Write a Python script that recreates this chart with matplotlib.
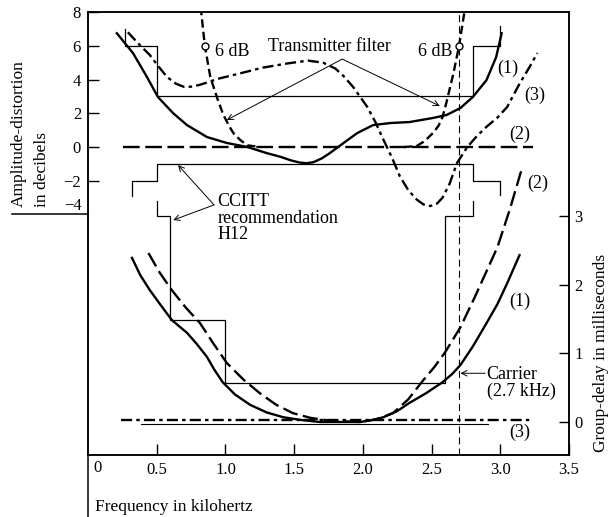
import matplotlib
matplotlib.use('Agg')
import matplotlib.pyplot as plt
from matplotlib.lines import Line2D

plt.rcParams['font.family'] = ['Liberation Serif', 'DejaVu Serif']
plt.rcParams['lines.scale_dashes'] = False

# AMPLITUDE DISTORTION (dB) -- upper part
f_amp1 = [0.21, 0.327, 0.429, 0.509, 0.619, 0.72, 0.866, 1.01, 1.16, 1.30, 1.40, 1.48, 1.54, 1.59, 1.64, 1.70,
          1.76, 1.86, 1.96, 2.075, 2.20, 2.34, 2.51, 2.61, 2.71, 2.80, 2.90, 2.97, 3.01]
db_amp1 = [6.74, 5.57, 4.15, 2.96, 2.01, 1.30, 0.59, 0.24, 0.0, -0.36, -0.58, -0.80, -0.92, -0.96, -0.90, -0.68,
           -0.36, 0.24, 0.83, 1.30, 1.42, 1.48, 1.72, 1.90, 2.31, 2.96, 3.97, 5.33, 6.74]

f_amp2 = [0.255, 3.24]
db_amp2 = [0.0, 0.0]

f_amp3 = [0.29, 0.37, 0.45, 0.51, 0.575, 0.64, 0.70, 0.76, 0.82, 0.95, 1.10, 1.27, 1.45, 1.60, 1.71, 1.80, 1.86,
          1.93, 2.03, 2.09, 2.14, 2.21, 2.27, 2.33, 2.39, 2.44, 2.49, 2.54, 2.58, 2.63, 2.685, 2.76, 2.83, 2.90,
          2.98, 3.05, 3.14, 3.21, 3.27]
db_amp3 = [6.8, 6.1, 5.45, 4.8, 4.15, 3.75, 3.56, 3.58, 3.7, 4.05, 4.35, 4.7, 4.95, 5.12, 5.0, 4.65, 4.2,
           3.55, 2.4, 1.5, 0.6, -0.6, -1.75, -2.55, -3.1, -3.4, -3.5, -3.35, -3.0, -2.2, -0.95, 0.0, 0.65, 1.2,
           1.75, 2.37, 3.75, 4.7, 5.57]

# transmitter filter, two skirts
f_filt_lo = [0.82, 0.85, 0.89, 0.94, 0.985, 1.03, 1.06, 1.11, 1.16, 1.25]
db_filt_lo = [8.3, 6.0, 4.15, 2.9, 1.9, 1.2, 0.8, 0.4, 0.1, 0.0]
f_filt_hi = [2.30, 2.39, 2.45, 2.51, 2.55, 2.58, 2.61, 2.66, 2.70, 2.745]
db_filt_hi = [0.0, 0.05, 0.35, 0.83, 1.25, 1.78, 2.7, 4.4, 6.0, 8.3]

# CCITT H12 amplitude mask
f_mask_up = [0.27, 0.27, 0.5, 0.5, 2.8, 2.8, 3.0, 3.0]
db_mask_up = [7.0, 6.0, 6.0, 3.0, 3.0, 6.0, 6.0, 7.2]
f_mask_lo = [0.32, 0.32, 0.5, 0.5, 2.8, 2.8, 3.0, 3.0]
db_mask_lo = [-2.9, -2.0, -2.0, -1.0, -1.0, -2.0, -2.0, -2.85]

# GROUP DELAY (ms) -- lower part
f_gd1 = [0.32, 0.38, 0.45, 0.53, 0.61, 0.66, 0.72, 0.79, 0.865, 0.92, 0.98, 1.07, 1.18, 1.30, 1.42, 1.55, 1.69,
         1.84, 1.98, 2.07, 2.15, 2.25, 2.34, 2.46, 2.58, 2.65, 2.71, 2.80, 2.90, 2.98, 3.05, 3.14]
ms_gd1 = [2.39, 2.14, 1.92, 1.70, 1.485, 1.40, 1.30, 1.14, 0.95, 0.76, 0.58, 0.40, 0.25, 0.14, 0.07, 0.03, 0.0,
          0.0, 0.0, 0.03, 0.07, 0.16, 0.28, 0.42, 0.58, 0.70, 0.83, 1.10, 1.44, 1.72, 2.02, 2.43]

f_gd2 = [0.44, 0.52, 0.61, 0.71, 0.815, 0.91, 1.01, 1.13, 1.25, 1.37, 1.49, 1.62, 1.76, 1.98, 2.10, 2.22, 2.33,
         2.44, 2.52, 2.60, 2.71, 2.81, 2.91, 2.98, 3.07, 3.16]
ms_gd2 = [2.46, 2.18, 1.92, 1.67, 1.44, 1.15, 0.86, 0.62, 0.42, 0.25, 0.13, 0.06, 0.02, 0.0, 0.04, 0.13, 0.33,
          0.61, 0.80, 1.02, 1.38, 1.80, 2.24, 2.55, 3.10, 3.71]

f_gd3 = [0.24, 3.24]
ms_gd3 = [0.03, 0.03]
f_gd3b = [0.385, 2.91]
ms_gd3b = [-0.03, -0.03]

f_mask_gd = [0.5, 0.5, 0.6, 0.6, 1.0, 1.0, 2.6, 2.6, 2.8, 2.8]
ms_mask_gd = [3.22, 3.0, 3.0, 1.485, 1.485, 0.57, 0.57, 3.0, 3.0, 3.22]

carrier_khz = 2.70

xticks = [0.5, 1.0, 1.5, 2.0, 2.5, 3.0, 3.5]
xtick_labels = ['0.5', '1.0', '1.5', '2.0', '2.5', '3.0', '3.5']
db_ticks = [8, 6, 4, 2, 0, -2]
ms_ticks = [0, 1, 2, 3]

W, H = 611, 517
fig = plt.figure(figsize=(W / 100, H / 100), dpi=100)
ax = fig.add_axes([88 / W, 62 / H, 481 / W, 443 / H])
ax.set_xlim(0, 3.5)
ax.set_ylim(-18.25, 8)
ax2 = ax.twinx()
ax2.set_ylim(-0.48, 5.97)

for a in (ax, ax2):
    for s in a.spines.values():
        s.set_linewidth(1.1)

lw = 1.7
# upper curves
ax.plot(f_amp1, db_amp1, color='k', lw=lw)
ax.plot(f_amp2, db_amp2, color='k', lw=lw, ls=(0, (12, 4)))
ax.plot(f_amp3, db_amp3, color='k', lw=lw, ls=(0, (8, 3, 2.5, 3)))
ax.plot(f_filt_lo, db_filt_lo, color='k', lw=lw, ls=(0, (6, 3)))
ax.plot(f_filt_hi, db_filt_hi, color='k', lw=lw, ls=(0, (6, 3)))
ax.plot(f_mask_up, db_mask_up, color='k', lw=0.9)
ax.plot(f_mask_lo, db_mask_lo, color='k', lw=0.9)
ax.plot([0.85, 2.70], [6.0, 6.0], 'o', mfc='white', mec='k', ms=5, mew=1, zorder=5)

# lower curves
ax2.plot(f_gd1, ms_gd1, color='k', lw=lw)
ax2.plot(f_gd2, ms_gd2, color='k', lw=lw, ls=(0, (11, 4)))
ax2.plot(f_gd3, ms_gd3, color='k', lw=lw, ls=(0, (8, 3, 2.5, 3)))
ax2.plot(f_gd3b, ms_gd3b, color='k', lw=0.8)
ax2.plot(f_mask_gd, ms_mask_gd, color='k', lw=0.9)

ax.axvline(carrier_khz, color='k', lw=0.8, ls=(0, (5, 3)))

# ticks
tfs = 12
ax.set_xticks(xticks)
ax.set_xticklabels(xtick_labels)
ax.set_yticks(db_ticks)
ax.yaxis.set_ticks_position('left')
ax.xaxis.set_ticks_position('bottom')
ax.tick_params(axis='both', direction='in', length=8, width=1, labelsize=tfs, pad=5)
ax2.set_yticks(ms_ticks)
ax2.tick_params(axis='y', direction='in', length=7, width=1, labelsize=tfs, pad=4)
ax.text(0.07, -0.029, '0', transform=ax.get_xaxis_transform(), ha='center', va='center', fontsize=tfs)
# -4 sits just above the short rule that closes the dB scale
fig.text(82 / W, 1 - 206 / H, '\u22124', ha='right', va='center', fontsize=tfs)

# labels
fs = 13
ax.text(1.76, 5.93, 'Transmitter filter', ha='center', va='center', fontsize=fs)
ax.text(0.925, 5.63, '6 dB', ha='left', va='center', fontsize=fs)
ax.text(2.655, 5.63, '6 dB', ha='right', va='center', fontsize=fs)
arrow = dict(arrowstyle='->', lw=0.7, color='k', shrinkA=0, shrinkB=0)
ax.annotate('', xy=(1.01, 1.6), xytext=(1.85, 5.21), arrowprops=arrow)
ax.annotate('', xy=(2.56, 2.43), xytext=(1.85, 5.21), arrowprops=arrow)

ax.text(0.94, -2.75, 'CCITT\nrecommendation\nH12', ha='left', va='top', fontsize=fs, linespacing=0.95)
ax.annotate('', xy=(0.655, -1.07), xytext=(0.917, -3.43), arrowprops=arrow)
ax.annotate('', xy=(0.62, -4.33), xytext=(0.917, -3.43), arrowprops=arrow)

ax.text(3.056, 4.68, '(1)', ha='center', va='center', fontsize=fs)
ax.text(3.25, 3.08, '(3)', ha='center', va='center', fontsize=fs)
ax.text(3.14, 0.75, '(2)', ha='center', va='center', fontsize=fs)

ax2.text(3.27, 3.48, '(2)', ha='center', va='center', fontsize=fs)
ax2.text(3.14, 1.75, '(1)', ha='center', va='center', fontsize=fs)
ax2.text(3.14, -0.15, '(3)', ha='center', va='center', fontsize=fs)
ax2.text(2.90, 0.57, 'Carrier\n(2.7 kHz)', ha='left', va='center', fontsize=fs, linespacing=1.0)
ax2.annotate('', xy=(2.71, 0.71), xytext=(2.89, 0.71), arrowprops=arrow)

lfs = 12.5
fig.text(19 / W, 1 - 207 / H, 'Amplitude-distortion', rotation=90, ha='center', va='bottom', fontsize=lfs)
fig.text(42 / W, 1 - 207 / H, 'in decibels', rotation=90, ha='center', va='bottom', fontsize=lfs)
fig.text(601 / W, 1 - 452 / H, 'Group-delay in milliseconds', rotation=90, ha='center', va='bottom', fontsize=lfs)
fig.text(95 / W, 1 - 507 / H, 'Frequency in kilohertz', ha='left', va='center', fontsize=lfs)

# extra frame lines
fig.add_artist(Line2D([88 / W, 88 / W], [0, 62 / H], color='k', lw=1.1))
fig.add_artist(Line2D([12 / W, 88 / W], [1 - 214 / H, 1 - 214 / H], color='k', lw=1.1))

fig.savefig('out.png', dpi=100)
